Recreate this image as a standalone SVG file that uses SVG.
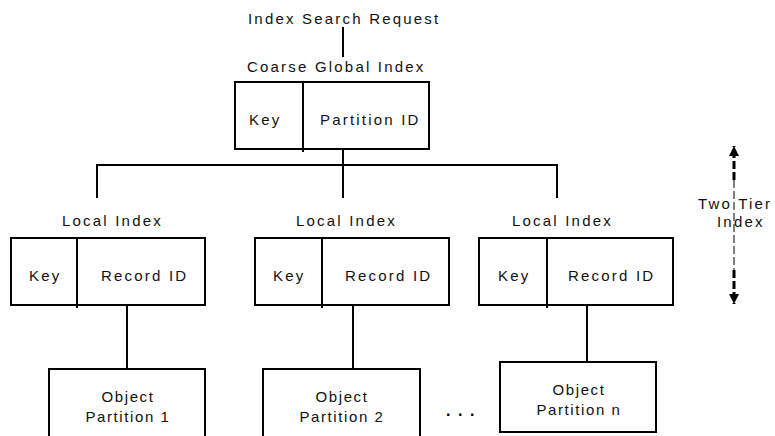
<svg xmlns="http://www.w3.org/2000/svg" width="775" height="436" viewBox="0 0 775 436">
<style>
  .t { font-family: "Liberation Sans", Arial, sans-serif; font-size: 15px; letter-spacing: 2.2px; fill: #111; }
  .o { font-family: "Liberation Sans", Arial, sans-serif; font-size: 15px; letter-spacing: 1.6px; fill: #111; text-anchor: middle; }
  .box { fill: #fff; stroke: #000; stroke-width: 2; }
  .ln { stroke: #000; stroke-width: 2; fill: none; }
</style>
<defs>
  <marker id="ah" viewBox="0 0 10 10" refX="10" refY="5" markerWidth="10" markerHeight="10" markerUnits="userSpaceOnUse" orient="auto">
    <path d="M0,0 L10,5 L0,10 Z" fill="#000"/>
  </marker>
</defs>
<rect width="775" height="436" fill="#fff"/>

<g id="connectors">
  <line class="ln" x1="343" y1="27" x2="343" y2="57"/>
  <line class="ln" x1="343" y1="150" x2="343" y2="165"/>
  <polyline class="ln" points="97,198 97,165 557,165 557,198"/>
  <line class="ln" x1="343" y1="165" x2="343" y2="198"/>
  <line class="ln" x1="127" y1="305" x2="127" y2="369"/>
  <line class="ln" x1="353" y1="305" x2="353" y2="369"/>
  <line class="ln" x1="587" y1="305" x2="587" y2="362"/>
</g>

<g id="request">
  <text class="t" x="248" y="24">Index Search Request</text>
</g>

<g id="global-index">
  <text class="t" x="247" y="72">Coarse Global Index</text>
  <rect class="box" x="235" y="82" width="194" height="67"/>
  <line class="ln" x1="303" y1="82" x2="303" y2="152"/>
  <text class="t" x="249" y="125">Key</text>
  <text class="t" x="320" y="125">Partition ID</text>
</g>

<g id="local-index-1">
  <text class="t" x="62" y="226">Local Index</text>
  <rect class="box" x="11" y="238" width="194" height="67"/>
  <line class="ln" x1="77" y1="238" x2="77" y2="308"/>
  <text class="t" x="29" y="281">Key</text>
  <text class="t" x="101" y="281">Record ID</text>
</g>

<g id="local-index-2">
  <text class="t" x="296" y="226">Local Index</text>
  <rect class="box" x="255" y="238" width="194" height="67"/>
  <line class="ln" x1="322" y1="238" x2="322" y2="308"/>
  <text class="t" x="273" y="281">Key</text>
  <text class="t" x="345" y="281">Record ID</text>
</g>

<g id="local-index-3">
  <text class="t" x="512" y="226">Local Index</text>
  <rect class="box" x="479" y="238" width="194" height="67"/>
  <line class="ln" x1="547" y1="238" x2="547" y2="308"/>
  <text class="t" x="498" y="281">Key</text>
  <text class="t" x="568" y="281">Record ID</text>
</g>

<g id="object-partition-1">
  <rect class="box" x="49" y="369" width="156" height="80"/>
  <text class="o" x="128" y="402">Object</text>
  <text class="o" x="128" y="422">Partition 1</text>
</g>

<g id="object-partition-2">
  <rect class="box" x="263" y="369" width="157" height="80"/>
  <text class="o" x="342" y="402">Object</text>
  <text class="o" x="342" y="422">Partition 2</text>
</g>

<g id="ellipsis">
  <text x="446" y="416" style="font-family:'Liberation Sans',Arial,sans-serif;font-size:16px;font-weight:bold;letter-spacing:7.5px;fill:#000">...</text>
</g>

<g id="object-partition-n">
  <rect class="box" x="500" y="362" width="156" height="70"/>
  <text class="o" x="579" y="395">Object</text>
  <text class="o" x="579" y="415">Partition n</text>
</g>

<g id="two-tier">
  <line x1="734" y1="180" x2="734" y2="146" stroke="#000" stroke-width="3" stroke-dasharray="8,3" marker-end="url(#ah)"/>
  <line x1="734" y1="180" x2="734" y2="270" stroke="#000" stroke-width="1" stroke-dasharray="8,3"/>
  <line x1="734" y1="270" x2="734" y2="304" stroke="#000" stroke-width="3" stroke-dasharray="8,3" marker-end="url(#ah)"/>
  <text class="t" x="698" y="209">Two Tier</text>
  <text class="t" x="717" y="227">Index</text>
</g>
</svg>
